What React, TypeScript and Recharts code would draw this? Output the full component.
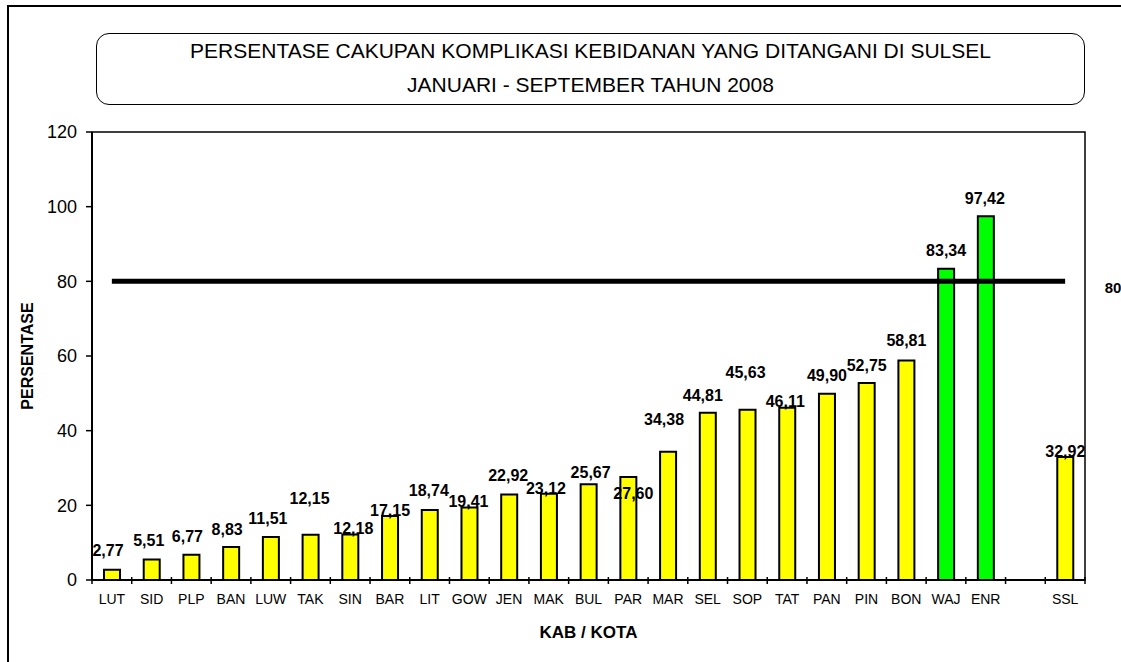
import { Bar, Cell, ComposedChart, LabelList, Line, ReferenceArea, XAxis, YAxis } from 'recharts';

const regions = ['LUT', 'SID', 'PLP', 'BAN', 'LUW', 'TAK', 'SIN', 'BAR', 'LIT', 'GOW', 'JEN', 'MAK', 'BUL', 'PAR', 'MAR', 'SEL', 'SOP', 'TAT', 'PAN', 'PIN', 'BON', 'WAJ', 'ENR', '', 'SSL'];
const coverage = [2.77, 5.51, 6.77, 8.83, 11.51, 12.15, 12.18, 17.15, 18.74, 19.41, 22.92, 23.12, 25.67, 27.6, 34.38, 44.81, 45.63, 46.11, 49.9, 52.75, 58.81, 83.34, 97.42, null, 32.92];
const target = 80;
const yTicks = [0, 20, 40, 60, 80, 100, 120];

// manual label nudges from the original sheet: [dx, gap above bar top]
const labelOffsets = [
  [-4, 14], [-3, 13], [-4, 13], [-4, 12], [-3, 13], [-1, 31], [3, 1], [0, 0], [-1, 14], [-1, 1],
  [-1, 13], [-3, 0], [2, 6], [5, -22], [-4, 27], [-5, 12], [-2, 32], [-2, 1], [0, 13], [0, 12],
  [0, 14], [0, 13], [-1, 12], [0, 0], [-2, 13],
];

const data = regions.map((name, i) => ({ name, value: coverage[i], target }));

const FONT = '"Liberation Sans", Arial, sans-serif';
const PLOT_W = 993;
const HALF_BAND = PLOT_W / regions.length / 2;

const fmt = (v: number) => v.toFixed(2).replace('.', ',');

const XTick = ({ x, y, payload, index }: any) => (
  <g>
    <line x1={x - HALF_BAND} x2={x - HALF_BAND} y1={y - 3} y2={y + 4} stroke="#000" strokeWidth={1.5} />
    {index === regions.length - 1 && (
      <line x1={x + HALF_BAND} x2={x + HALF_BAND} y1={y - 3} y2={y + 4} stroke="#000" strokeWidth={1.5} />
    )}
    <text x={x} y={y + 24} textAnchor="middle" fontSize={14} fill="#000" fontFamily={FONT}>
      {payload.value}
    </text>
  </g>
);

const BarLabel = ({ x, y, width, value, index }: any) => {
  if (value == null) return null;
  const [dx, gap] = labelOffsets[index];
  return (
    <text x={x + width / 2 + dx} y={y - gap} textAnchor="middle" fontSize={16} fontWeight="bold" fill="#000" fontFamily={FONT}>
      {fmt(value)}
    </text>
  );
};

const TargetLabel = ({ x, y, index }: any) =>
  index === regions.length - 1 ? (
    <text x={x + 48} y={y + 12} textAnchor="middle" fontSize={15} fontWeight="bold" fill="#000" fontFamily={FONT}>
      {target}
    </text>
  ) : null;

export default function App() {
  return (
    <div style={{ position: 'absolute', left: 0, top: 0, width: 1121, height: 662, overflow: 'hidden', background: '#fff', fontFamily: FONT }}>
      <div style={{ position: 'absolute', left: 7, top: 5, width: 1114, height: 657, borderLeft: '2px solid #000', borderTop: '2px solid #000' }} />
      <div
        style={{
          position: 'absolute', left: 96, top: 33, width: 987, height: 70, border: '1.5px solid #000', borderRadius: 13,
          textAlign: 'center', fontSize: 21, lineHeight: '34px', color: '#000',
        }}
      >
        <div>PERSENTASE CAKUPAN KOMPLIKASI KEBIDANAN YANG DITANGANI DI SULSEL</div>
        <div>JANUARI - SEPTEMBER TAHUN 2008</div>
      </div>
      <div style={{ position: 'absolute', left: 0, top: 0 }}>
        <ComposedChart width={1121} height={662} data={data} margin={{ top: 132, right: 36, bottom: 52, left: 32 }}>
          <ReferenceArea y1={0} y2={120} fill="none" stroke="#000" strokeWidth={1.5} ifOverflow="visible" />
          <XAxis
            dataKey="name"
            interval={0}
            height={30}
            tickSize={0}
            tickMargin={0}
            tickLine={false}
            tick={<XTick />}
            axisLine={{ stroke: '#000', strokeWidth: 2 }}
            label={{ value: 'KAB / KOTA', position: 'bottom', offset: 16, fill: '#000', fontSize: 17, fontWeight: 'bold', fontFamily: FONT }}
          />
          <YAxis
            width={60}
            domain={[0, 120]}
            ticks={yTicks}
            interval={0}
            tickSize={6}
            tickMargin={9}
            tick={{ fill: '#000', fontSize: 18, fontFamily: FONT }}
            tickLine={{ stroke: '#000', strokeWidth: 1.5 }}
            axisLine={{ stroke: '#000', strokeWidth: 2 }}
            label={{ value: 'PERSENTASE', angle: -90, position: 'insideLeft', offset: -5, fill: '#000', fontSize: 16, fontWeight: 'bold', fontFamily: FONT, style: { textAnchor: 'middle' } }}
          />
          <Bar dataKey="value" barSize={16} stroke="#000" strokeWidth={2} isAnimationActive={false}>
            {data.map((d, i) => (
              <Cell key={i} fill={d.value != null && d.value >= target ? '#00FF00' : '#FFFF00'} />
            ))}
            <LabelList dataKey="value" content={<BarLabel />} />
          </Bar>
          <Line dataKey="target" stroke="#000" strokeWidth={5} dot={false} activeDot={false} isAnimationActive={false}>
            <LabelList dataKey="target" content={<TargetLabel />} />
          </Line>
        </ComposedChart>
      </div>
    </div>
  );
}
